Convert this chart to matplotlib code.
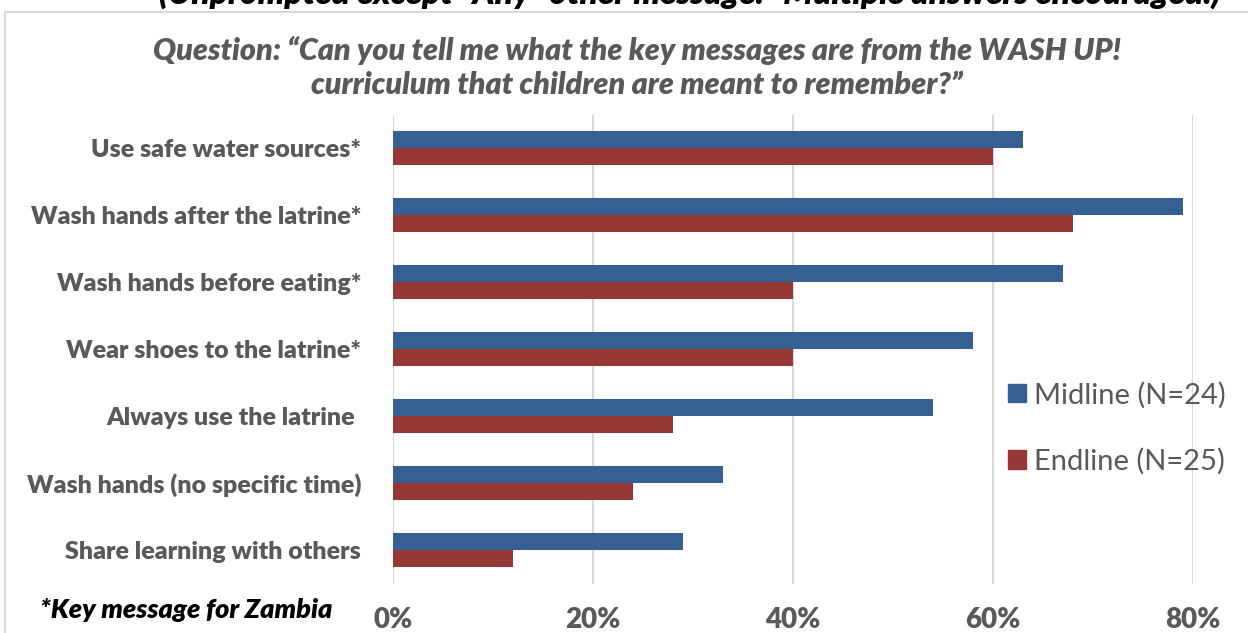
import matplotlib
matplotlib.use("Agg")
import matplotlib.pyplot as plt
import numpy as np
from matplotlib.patches import Rectangle, Patch

categories = [
    "Use safe water sources*",
    "Wash hands after the latrine*",
    "Wash hands before eating*",
    "Wear shoes to the latrine*",
    "Always use the latrine ",
    "Wash hands (no specific time)",
    "Share learning with others",
]
midline = [63, 79, 67, 58, 54, 33, 29]
endline = [60, 68, 40, 40, 28, 24, 12]
series_names = ["Midline (N=24)", "Endline (N=25)"]
xticks = [0, 20, 40, 60, 80]
xticklabels = ["0%", "20%", "40%", "60%", "80%"]

blue = "#376092"
red = "#953735"
grey = "#595959"
fam = ["Lato", "DejaVu Sans"]

W, H = 1248, 633
fig = plt.figure(figsize=(W / 100, H / 100), dpi=100)
fig.patch.set_facecolor("white")

ax = fig.add_axes([393 / W, 1 - 583.5 / H, 800 / W, 469 / H])
y = np.arange(len(categories))
h = 0.26
ax.barh(y - h / 2, midline, height=h, color=blue, label=series_names[0], zorder=3)
ax.barh(y + h / 2, endline, height=h, color=red, label=series_names[1], zorder=3)
ax.set_ylim(len(categories) - 0.5, -0.5)
ax.set_xlim(0, 80)
ax.set_xticks(xticks)
ax.set_xticklabels(xticklabels, fontsize=20, fontweight=800, color=grey, family=fam)
ax.set_yticks(y)
ax.set_yticklabels(categories, fontsize=18, fontweight=800, color=grey, family=fam)
ax.tick_params(axis="x", length=0, pad=17)
ax.tick_params(axis="y", length=0, pad=23)
ax.grid(axis="x", color="#d9d9d9", linewidth=1.5, zorder=0)
for s in ax.spines.values():
    s.set_visible(False)
ax.set_axisbelow(True)

leg = ax.legend(handles=[Patch(color=blue), Patch(color=red)], labels=series_names,
                loc="center left", bbox_to_anchor=(982 / W, 1 - 428 / H),
                bbox_transform=fig.transFigure, frameon=False,
                prop={"family": fam, "size": 21}, labelcolor=grey,
                handlelength=0.6, handleheight=0.6, handletextpad=0.3,
                labelspacing=1.35)

# panel border
fig.add_artist(Rectangle((5 / W, -0.1), 1.2, 1 - 12 / H + 0.1, transform=fig.transFigure,
                         fill=False, edgecolor="#d9d9d9", linewidth=1.5))

fig.text(637 / W, 1 - 50 / H,
         "Question: \u201cCan you tell me what the key messages are from the WASH UP!",
         ha="center", va="center", fontsize=22, fontweight=800, fontstyle="italic",
         color=grey, family=fam)
fig.text(637 / W, 1 - 85 / H,
         "curriculum that children are meant to remember?\u201d",
         ha="center", va="center", fontsize=22, fontweight=800, fontstyle="italic",
         color=grey, family=fam)
fig.text(690 / W, 1 - 9 / H,
         "(Unprompted except \u201cAny\u201d other message.\u201d Multiple answers encouraged.)",
         ha="center", va="bottom", fontsize=24, fontweight=800, fontstyle="italic",
         color="black", family=fam)
fig.text(40 / W, 1 - 610 / H, "*Key message for Zambia", ha="left", va="center",
         fontsize=19.5, fontweight=800, fontstyle="italic", color="black", family=fam)

fig.savefig("out.png", dpi=100)
